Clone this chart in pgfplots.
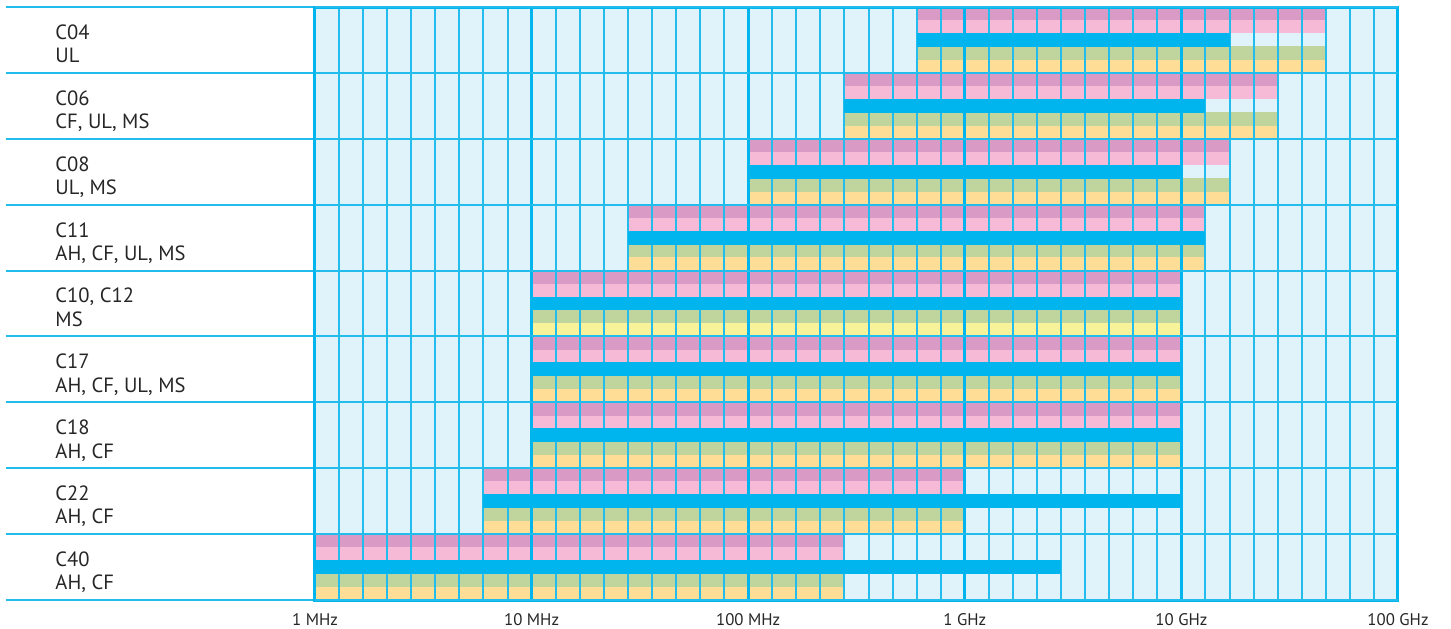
\documentclass[border=0pt]{standalone}
\usepackage{pgfplots}
\pgfplotsset{compat=1.18}
\usepackage{pgfplotstable}
\usepackage{fontspec}
\setmainfont{PT Sans}
\definecolor{bgblue}{HTML}{E0F3FA}
\definecolor{majblue}{HTML}{00B5EE}
\definecolor{rowline}{HTML}{22BDEC}
\definecolor{barblue}{HTML}{00B5EE}
\definecolor{pinkdark}{HTML}{D99BC5}
\definecolor{pinklight}{HTML}{F7BAD6}
\definecolor{greenS}{HTML}{BFD59D}
\definecolor{yellowS}{HTML}{FEDE96}
\definecolor{lemonS}{HTML}{F8F29A}

% y = row bottom, s/e = coloured stripes start/end, bs/be = blue bar start/end
% x unit = one grid column; 9 columns per decade, 0 = 1 MHz
\pgfplotstableread{
y s e bs be
8 25 42 25 38
7 22 40 22 37
6 18 38 18 36
5 13 37 13 37
4 9 36 9 36
3 9 36 9 36
2 9 36 9 36
1 7 27 7 36
0 0 22 0 31
}\ranges
% row C10, C12 has a lemon-yellow bottom stripe
\pgfplotstableread{
y s e
4 9 36
}\lemonrow

\pgfplotsset{
  stripe/.style 2 args={draw=none, mark=none, forget plot,
     error bars/x dir=plus, error bars/x explicit, error bars/error mark=none,
     error bars/error bar style={draw=#1, line width=#2, line cap=butt}},
  common/.style={scale only axis, width=541.5pt, height=296.5pt,
     xmin=0, xmax=45, ymin=0, ymax=9, clip=false},
}

\begin{document}
\begin{tikzpicture}
\begin{axis}[
  common,
  axis on top,
  axis background/.style={fill=bgblue},
  xtick={0,9,18,27,36,45},
  xticklabels={1 MHz,10 MHz,100 MHz,1 GHz,10 GHz,100 GHz},
  minor xtick={0,...,45},
  ytick=\empty,
  extra y ticks={0,1,2,3,4,5,6,7,8,9},
  extra y tick labels={},
  extra y tick style={grid=major, major grid style={draw=rowline, line width=1pt}},
  yticklabel style={opacity=0},
  xmajorgrids, xminorgrids,
  major grid style={draw=majblue, line width=1.5pt},
  minor grid style={draw=rowline, line width=1pt},
  major tick length=0pt, minor tick length=0pt,
  tick style={draw=none},
  axis line style={draw=majblue, line width=1.5pt},
  xticklabel style={font=\fontsize{8.4}{10}\selectfont, text=black!85, yshift=-3.2pt},
]
\addplot[stripe={yellowS}{6.65pt}] table[x=s, y expr=\thisrow{y}+0.1, x error expr=\thisrow{e}-\thisrow{s}] {\ranges};
\addplot[stripe={lemonS}{6.65pt}] table[x=s, y expr=\thisrow{y}+0.1, x error expr=\thisrow{e}-\thisrow{s}] {\lemonrow};
\addplot[stripe={greenS}{6.65pt}] table[x=s, y expr=\thisrow{y}+0.3, x error expr=\thisrow{e}-\thisrow{s}] {\ranges};
\addplot[stripe={pinklight}{6.65pt}] table[x=s, y expr=\thisrow{y}+0.7, x error expr=\thisrow{e}-\thisrow{s}] {\ranges};
\addplot[stripe={pinkdark}{6.65pt}] table[x=s, y expr=\thisrow{y}+0.9, x error expr=\thisrow{e}-\thisrow{s}] {\ranges};

\pgfplotsinvokeforeach{0,...,9}{\draw[rowline, line width=1pt] (axis cs:-12.84,#1) -- (axis cs:0,#1);}

\tikzset{lab/.style={anchor=base west, inner sep=0pt, text=black!85, font=\fontsize{10.3}{12}\selectfont}}
\node[lab, yshift=0.3pt] at (axis cs:-10.8,8.5) {C04};
\node[lab, yshift=-11.4pt] at (axis cs:-10.8,8.5) {UL};
\node[lab, yshift=0.3pt] at (axis cs:-10.8,7.5) {C06};
\node[lab, yshift=-11.4pt] at (axis cs:-10.8,7.5) {CF, UL, MS};
\node[lab, yshift=0.3pt] at (axis cs:-10.8,6.5) {C08};
\node[lab, yshift=-11.4pt] at (axis cs:-10.8,6.5) {UL, MS};
\node[lab, yshift=0.3pt] at (axis cs:-10.8,5.5) {C11};
\node[lab, yshift=-11.4pt] at (axis cs:-10.8,5.5) {AH, CF, UL, MS};
\node[lab, yshift=0.3pt] at (axis cs:-10.8,4.5) {C10, C12};
\node[lab, yshift=-11.4pt] at (axis cs:-10.8,4.5) {MS};
\node[lab, yshift=0.3pt] at (axis cs:-10.8,3.5) {C17};
\node[lab, yshift=-11.4pt] at (axis cs:-10.8,3.5) {AH, CF, UL, MS};
\node[lab, yshift=0.3pt] at (axis cs:-10.8,2.5) {C18};
\node[lab, yshift=-11.4pt] at (axis cs:-10.8,2.5) {AH, CF};
\node[lab, yshift=0.3pt] at (axis cs:-10.8,1.5) {C22};
\node[lab, yshift=-11.4pt] at (axis cs:-10.8,1.5) {AH, CF};
\node[lab, yshift=0.3pt] at (axis cs:-10.8,0.5) {C40};
\node[lab, yshift=-11.4pt] at (axis cs:-10.8,0.5) {AH, CF};
\end{axis}
% overlay axis: blue bars drawn above the grid
\begin{axis}[common, hide axis]
\addplot[stripe={barblue}{6.9pt}] table[x=bs, y expr=\thisrow{y}+0.5, x error expr=\thisrow{be}-\thisrow{bs}] {\ranges};
\end{axis}
\pgfresetboundingbox
\path (-157.5pt,-14pt) rectangle (568pt,300pt);
\end{tikzpicture}
\end{document}
